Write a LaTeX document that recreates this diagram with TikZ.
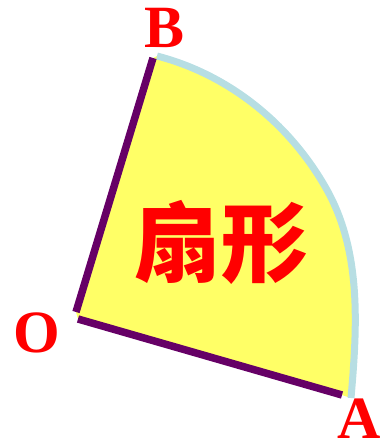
\documentclass[tikz,border=0pt]{standalone}
\usepackage{fontspec}
\setmainfont{Liberation Serif}
\newfontfamily\cjk{Noto Sans CJK SC}
\definecolor{sectorfill}{HTML}{FFFF66}
\definecolor{radiuspurple}{HTML}{660066}
\definecolor{arcblue}{HTML}{B7DEE3}
\begin{document}
\begin{tikzpicture}[
  x=1pt, y=-1pt,
  radius line/.style={draw=radiuspurple, line width=7.5pt},
  arc line/.style={draw=arcblue, line width=7pt},
  point label/.style={text=red, inner sep=0pt, font=\fontsize{60}{60}\selectfont\bfseries},
  sector label/.style={text=red, inner sep=0pt, font=\cjk\fontsize{87}{87}\selectfont\bfseries}
]
  \useasboundingbox (0,0) rectangle (386,447);

  \coordinate (Ob) at (76,312);
  \coordinate (Oa) at (78,319);
  \coordinate (B) at (153,58);
  \coordinate (A) at (342,395);
  \coordinate (arcB) at (157,56);
  \coordinate (arcM) at (327,190);
  \coordinate (arcA) at (351,398);

  % sector body
  \fill[sectorfill] (Ob) -- (B) -- (arcB)
    .. controls (229.4,74.7) and (290.6,124.6) .. (arcM)
    .. controls (361.7,252.3) and (357.2,327) .. (arcA) -- (A) -- (Oa) -- cycle;

  % arc and radii
  \draw[arc line] (arcB)
    .. controls (229.4,74.7) and (290.6,124.6) .. (arcM)
    .. controls (361.7,252.3) and (357.2,327) .. (arcA);
  \draw[radius line] (Ob) -- (B);
  \draw[radius line] (Oa) -- (A);

  \node[point label] (labelB) at (165,28) {B};
  \node[point label] (labelO) at (37,333) {O};
  \node[point label] (labelA) at (359,419) {A};
  \node[sector label] (name) at (221,242) {扇形};
\end{tikzpicture}
\end{document}
